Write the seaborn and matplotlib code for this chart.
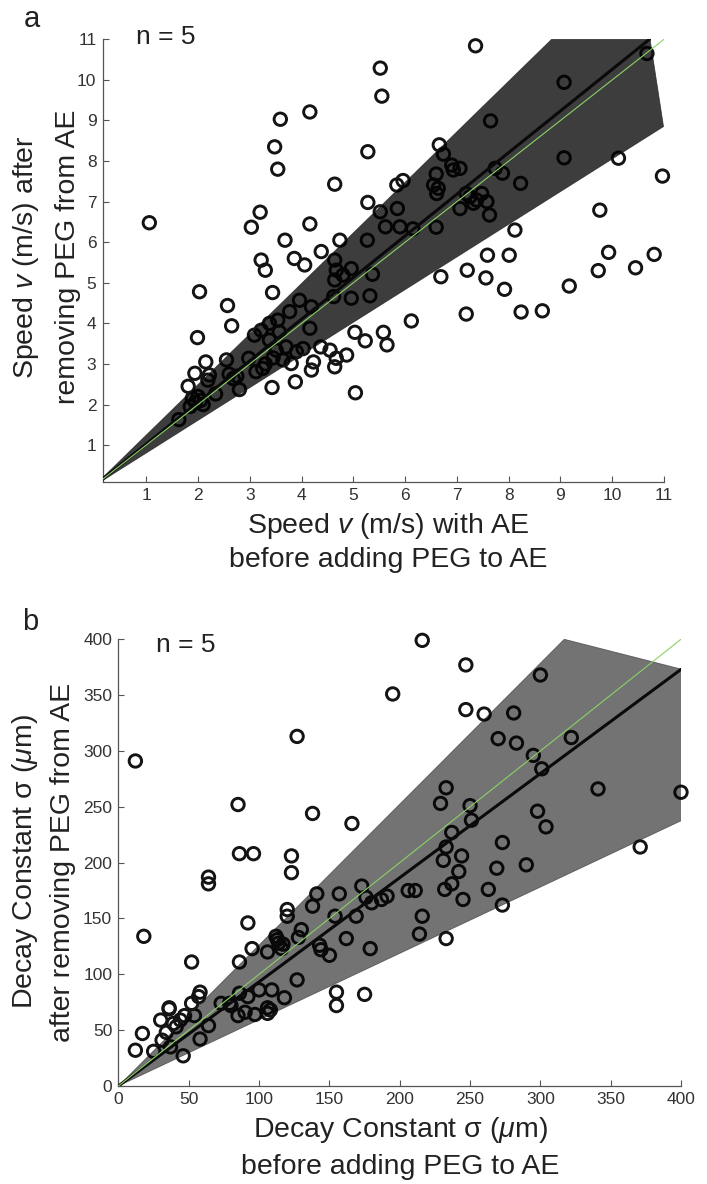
import seaborn as sns
import matplotlib.pyplot as plt

sns.set_theme(style="white")
plt.rcParams['font.family'] = ['Liberation Sans', 'DejaVu Sans']
plt.rcParams['mathtext.fontset'] = 'custom'
plt.rcParams['mathtext.rm'] = 'Liberation Sans'
plt.rcParams['mathtext.it'] = 'Liberation Sans:italic'

# ---- panel a: speed (m/s) ----
speed_before = [1.06, 2.03, 1.99, 2.15, 1.94, 1.81, 2.19, 2.34, 2.22, 1.89, 1.95, 2.05, 2.10, 1.85, 2.00,
                1.63, 2.57, 2.65, 2.55, 2.68, 2.80, 2.60, 2.75, 3.03, 3.20, 3.22, 3.30, 3.48, 3.54, 3.59,
                4.16, 3.44, 3.43, 3.88, 3.68, 3.86, 4.06, 4.16, 4.38, 4.64, 4.74, 5.28, 5.28, 5.52, 5.55,
                5.58, 5.65, 5.03, 5.23, 5.04, 4.87, 4.64, 4.67, 4.55, 4.37, 4.23, 4.19, 4.03, 3.80,
                3.09, 3.22, 3.38, 3.54, 3.77, 3.96, 4.19, 4.16, 2.98, 3.25, 3.12, 3.51, 3.70, 3.64, 3.90,
                3.38, 3.57, 3.30, 3.45,
                4.64, 4.67, 4.64, 4.80, 4.96, 4.62, 4.96, 5.32, 5.37, 5.27, 5.52, 5.62,
                7.36, 9.07, 10.67, 7.65, 9.07, 10.12, 10.97, 6.66, 6.74, 6.90, 7.06, 6.93, 7.88, 8.23,
                7.74, 6.60, 5.84, 5.96, 6.55, 6.64, 6.61, 5.85, 5.90, 6.15, 6.60, 7.06, 7.25, 7.38, 7.48,
                7.58, 7.63, 7.32, 7.18, 8.12, 9.76, 7.59, 8.01, 9.93, 10.81, 9.73, 10.45, 9.17, 6.69, 7.20,
                7.56, 7.92, 7.18, 8.24, 8.65, 6.12]
speed_after = [6.48, 4.78, 3.65, 3.05, 2.77, 2.45, 2.60, 2.26, 2.73, 2.15, 2.05, 2.10, 2.00, 1.95, 2.20,
               1.63, 4.44, 3.94, 3.10, 2.64, 2.37, 2.75, 2.70, 6.37, 6.74, 5.56, 5.31, 8.35, 7.80, 9.03,
               9.21, 4.76, 2.42, 2.56, 6.05, 5.60, 5.44, 6.45, 5.77, 7.43, 6.05, 8.23, 6.98, 10.29, 9.60,
               3.78, 3.47, 3.78, 3.57, 2.29, 3.22, 2.93, 3.14, 3.34, 3.42, 3.05, 2.85, 3.38, 3.01,
               3.71, 3.83, 4.00, 4.08, 4.29, 4.57, 4.41, 3.88, 3.14, 2.89, 2.81, 3.34, 3.42, 3.10, 3.30,
               3.59, 3.79, 3.00, 3.15,
               5.56, 5.31, 5.07, 5.19, 5.35, 4.66, 4.62, 4.68, 5.21, 6.05, 6.75, 6.38,
               10.84, 9.94, 10.65, 8.99, 8.08, 8.07, 7.63, 8.40, 8.17, 7.90, 7.82, 7.78, 7.70, 7.45,
               7.82, 7.68, 7.41, 7.52, 7.41, 7.33, 7.20, 6.83, 6.38, 6.33, 6.37, 6.83, 7.12, 7.04, 7.20,
               7.00, 6.67, 6.96, 7.20, 6.30, 6.79, 5.68, 5.68, 5.75, 5.70, 5.30, 5.37, 4.92, 5.15, 5.31,
               5.12, 4.84, 4.23, 4.28, 4.31, 4.06]
speed_band_x = [0, 8.83, 10.73, 10.99]
speed_band_y = [0, 11.0, 11.0, 8.85]
speed_fit_x = [0, 10.72]
speed_fit_y = [0, 11.0]
speed_ticks = list(range(1, 12))

# ---- panel b: decay constant (um) ----
decay_before = [12, 18, 127, 195, 85, 138, 166, 86, 96, 123, 123, 64, 64, 92, 95, 52, 86, 120, 120, 141,
                138, 157, 173, 176, 180, 187, 191, 169, 154, 130, 128, 114, 112, 116, 113, 117, 106, 143,
                144, 150, 162, 179, 127, 155, 155, 175, 58, 57, 52, 36, 73, 80, 86, 92, 100, 109, 118, 106,
                247, 300, 247, 260, 281, 270, 283, 322, 295, 301, 341, 400, 371, 233, 229, 250, 251, 298,
                304, 237, 233, 231, 244, 242, 237, 232, 245, 273, 269, 290, 263, 273, 216, 214, 233, 206,
                211, 216,
                12, 17, 25, 31, 30, 36, 34, 37, 39, 44, 47, 41, 46, 54, 58, 64, 79, 85, 90, 97, 106, 108]
decay_after = [291, 134, 313, 351, 252, 244, 235, 208, 208, 206, 191, 187, 181, 146, 123, 111, 111, 158,
               152, 172, 161, 172, 179, 169, 164, 167, 170, 152, 152, 140, 133, 128, 134, 123, 131, 127,
               120, 126, 122, 117, 132, 123, 95, 84, 72, 82, 84, 80, 74, 70, 74, 72, 83, 80, 86, 86, 79,
               70,
               377, 368, 337, 333, 334, 311, 307, 312, 296, 284, 266, 263, 214, 267, 253, 251, 238, 246,
               232, 227, 214, 202, 206, 192, 181, 176, 167, 218, 195, 198, 176, 162, 152, 136, 132, 175,
               175, 399,
               32, 47, 31, 41, 59, 69, 48, 35, 56, 59, 63, 53, 27, 63, 42, 54, 74, 63, 66, 64, 65, 68]
decay_band_x = [0, 317, 401, 401]
decay_band_y = [0, 400, 373, 238]
decay_fit_x = [0, 400]
decay_fit_y = [0, 373]
decay_ticks = list(range(0, 401, 50))

LABEL = 20.5
TICK = 12.5
GREY = '#555555'


def draw_panel(ax, xs, ys, band_x, band_y, fit_x, fit_y, lim, ticks, band_alpha, ntext):
    sns.scatterplot(x=xs, y=ys, ax=ax, s=80, marker='o', facecolor='none',
                    edgecolor='#141414', linewidth=2.1, zorder=2, clip_on=False)
    ax.fill(band_x, band_y, facecolor='black', alpha=band_alpha,
            edgecolor='#222222', linewidth=0.6, zorder=3)
    sns.lineplot(x=fit_x, y=fit_y, ax=ax, color='#0a0a0a', linewidth=2.2,
                 sort=False, estimator=None, zorder=4)
    sns.lineplot(x=[0, lim[1]], y=[0, lim[1]], ax=ax, color='#8bd068', linewidth=0.8,
                 sort=False, estimator=None, zorder=5)
    ax.set_xlim(lim[0], lim[1])
    ax.set_ylim(lim[2], lim[1])
    ax.set_xticks(ticks)
    ax.set_yticks(ticks)
    ax.tick_params(direction='in', length=4, width=0.8, color=GREY,
                   labelsize=TICK, labelcolor='#333333', pad=4.5,
                   bottom=True, left=True)
    sns.despine(ax=ax)
    for side in ('left', 'bottom'):
        ax.spines[side].set_color(GREY)
        ax.spines[side].set_linewidth(0.9)
    ax.text(ntext[0], ntext[1], "n = 5", fontsize=19, ha='left', va='center', color='#222222')


fig = plt.figure(figsize=(7.07, 11.84), dpi=100)

ax_a = fig.add_axes([0.1453, 0.5932, 0.7939, 0.3736])
draw_panel(ax_a, speed_before, speed_after, speed_band_x, speed_band_y,
           speed_fit_x, speed_fit_y, (0.16, 11, 0.1), speed_ticks, 0.76, (0.8, 11.05))

ax_b = fig.add_axes([0.1676, 0.0828, 0.7956, 0.3773])
draw_panel(ax_b, decay_before, decay_after, decay_band_x, decay_band_y,
           decay_fit_x, decay_fit_y, (0, 400, 0), decay_ticks, 0.55, (27, 395))

txt = dict(color='#222222', fontsize=LABEL)
fig.text(0.045, 0.9774, "a", ha='center', va='baseline', fontsize=21, color='#222222')
fig.text(0.0424, 0.4679, "b", ha='center', va='baseline', fontsize=21, color='#222222')

fig.text(0.037, 0.783, r"Speed $v$ (m/s) after", rotation=90, ha='center', va='center', **txt)
fig.text(0.096, 0.783, "removing PEG from AE", rotation=90, ha='center', va='center', **txt)
fig.text(0.549, 0.5498, r"Speed $v$ (m/s) with AE", ha='center', va='baseline', **txt)
fig.text(0.549, 0.5211, "before adding PEG to AE", ha='center', va='baseline', **txt)

fig.text(0.0354, 0.272, r"Decay Constant σ ($\mu$m)", rotation=90, ha='center', va='center', **txt)
fig.text(0.089, 0.272, "after removing PEG from AE", rotation=90, ha='center', va='center', **txt)
fig.text(0.566, 0.0397, r"Decay Constant σ ($\mu$m)", ha='center', va='baseline', **txt)
fig.text(0.566, 0.0085, "before adding PEG to AE", ha='center', va='baseline', **txt)

fig.savefig("out.png", dpi=100, facecolor='white')
